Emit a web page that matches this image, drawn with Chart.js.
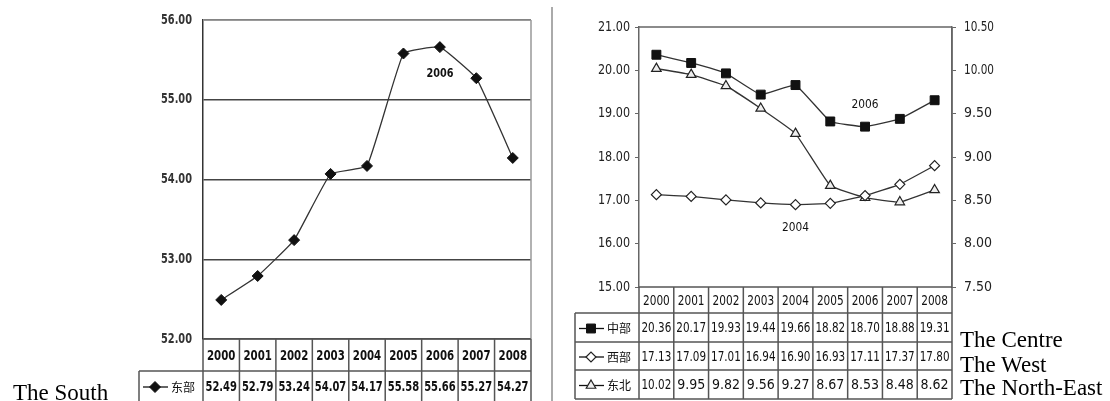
<!DOCTYPE html>
<html><head><meta charset="utf-8">
<script src="https://cdn.jsdelivr.net/npm/chart.js@4/dist/chart.umd.min.js"></script>
<style>
html,body{margin:0;padding:0;background:#fff;width:1110px;height:401px;overflow:hidden;}
#wrap{position:relative;width:1110px;height:401px;}
canvas{position:absolute;top:0;}
#c1{left:0;} #c2{left:552px;}
.lab{position:absolute;font-family:'Liberation Serif','Times New Roman',serif;font-size:23px;line-height:23px;color:#000;white-space:nowrap;}
#sep{position:absolute;left:551px;top:7px;width:2px;height:394px;background:#aaa;}
</style></head><body>
<div id="wrap">
<canvas id="c1" width="552" height="401"></canvas>
<canvas id="c2" width="558" height="401"></canvas>
<div id="sep"></div>
<div class="lab" style="left:13px;top:381px;">The South</div>
<div class="lab" style="left:960px;top:328px;">The Centre</div>
<div class="lab" style="left:960px;top:353px;">The West</div>
<div class="lab" style="left:960px;top:376px;">The North-East</div>
</div>
<script>
// ---- data ----
const years = ['2000','2001','2002','2003','2004','2005','2006','2007','2008'];
const south = [52.49, 52.79, 53.24, 54.07, 54.17, 55.58, 55.66, 55.27, 54.27];
const centre = [20.36, 20.17, 19.93, 19.44, 19.66, 18.82, 18.70, 18.88, 19.31];
const west = [17.13, 17.09, 17.01, 16.94, 16.90, 16.93, 17.11, 17.37, 17.80];
const northEast = [10.02, 9.95, 9.82, 9.56, 9.27, 8.67, 8.53, 8.48, 8.62];
const southName = '东部', centreName = '中部', westName = '西部', neName = '东北';
const leftNotes = [{text:'2006', x:'2006', y:55.33}];
const rightNotes = [{text:'2006', x:'2006', y:19.22}, {text:'2004', x:'2004', y:16.36}];

const narrow = "'DejaVu Sans Condensed','Liberation Sans',sans-serif";
const cjk = "'Noto Sans CJK SC','Noto Sans CJK JP',sans-serif";
Chart.defaults.font.family = narrow;
Chart.defaults.color = '#222';

function drawMarker(ctx, ds, x, y){
  ctx.save();
  ctx.fillStyle = ds.pointBackgroundColor;
  ctx.strokeStyle = ds.pointBorderColor;
  ctx.lineWidth = ds.pointBorderWidth;
  Chart.helpers.drawPoint(ctx, {pointStyle: ds.pointStyle, radius: ds.pointRadius, rotation: 0, borderWidth: ds.pointBorderWidth}, x, y);
  ctx.restore();
}

const tablePlugin = {
  id: 'tbl',
  afterDraw(chart, args, o){
    const ctx = chart.ctx, a = chart.chartArea;
    const n = years.length, cw = (a.right - a.left) / n;
    ctx.save();
    // box borders
    ctx.strokeStyle = o.boxColor; ctx.lineWidth = 1.5;
    ctx.beginPath();
    ctx.moveTo(a.left, a.top); ctx.lineTo(a.right, a.top);
    ctx.moveTo(a.right, a.top); ctx.lineTo(a.right, a.bottom);
    ctx.stroke();
    // axis tick labels (condensed)
    o.axes.forEach(ax => {
      const sc = chart.scales[ax.id];
      ctx.fillStyle = ax.color; ctx.font = ax.font; ctx.textBaseline = 'middle';
      ctx.textAlign = ax.align;
      sc.ticks.forEach(t => {
        const y = sc.getPixelForValue(t.value);
        ctx.fillText(t.value.toFixed(2), ax.x, y, ax.maxW);
      });
    });
    // table lines
    ctx.strokeStyle = o.lineColor; ctx.lineWidth = 1.5;
    const hTop = a.bottom, hBot = o.headerBottom, rb = o.rowBottoms;
    const last = rb[rb.length-1];
    ctx.beginPath();
    ctx.moveTo(a.left, hTop); ctx.lineTo(a.right, hTop);
    ctx.moveTo(o.legendLeft, hBot); ctx.lineTo(a.right, hBot);
    rb.forEach(b => { ctx.moveTo(o.legendLeft, b); ctx.lineTo(a.right, b); });
    for (let k = 0; k <= n; k++) { const x = a.left + k*cw; ctx.moveTo(x, hTop); ctx.lineTo(x, last); }
    ctx.moveTo(o.legendLeft, hBot); ctx.lineTo(o.legendLeft, last);
    ctx.stroke();
    // header text
    ctx.fillStyle = '#111'; ctx.textAlign = 'center'; ctx.textBaseline = 'middle';
    ctx.font = o.font;
    years.forEach((y, i) => ctx.fillText(y, a.left + (i+0.5)*cw, (hTop+hBot)/2 + 1, cw - 8));
    // rows
    chart.data.datasets.forEach((ds, r) => {
      const top = r === 0 ? hBot : rb[r-1], bot = rb[r];
      const cy = (top + Math.min(bot, chart.height)) / 2 + 1;
      ctx.fillStyle = '#111'; ctx.font = o.font; ctx.textAlign = 'center';
      ds.data.forEach((v, i) => ctx.fillText(v.toFixed(2), a.left + (i+0.5)*cw, cy, cw - 5));
      // legend sample
      ctx.strokeStyle = '#111'; ctx.lineWidth = 1.3;
      ctx.beginPath(); ctx.moveTo(o.legendLeft + 4, cy); ctx.lineTo(o.legendLeft + 29, cy); ctx.stroke();
      drawMarker(ctx, ds, o.legendLeft + 16, cy);
      ctx.fillStyle = '#111'; ctx.font = o.cjkFont; ctx.textAlign = 'left';
      ctx.fillText(ds.label, o.legendLeft + 32, cy, 28);
    });
    // notes
    ctx.fillStyle = '#111'; ctx.textAlign = 'center'; ctx.font = o.noteFont;
    o.notes.forEach(nt => {
      const sx = chart.scales.x.getPixelForValue(years.indexOf(nt.x));
      const sy = chart.scales.y.getPixelForValue(nt.y);
      ctx.fillText(nt.text, sx, sy, 27);
    });
    ctx.restore();
  }
};

new Chart(document.getElementById('c1'), {
  type: 'line',
  data: { labels: years, datasets: [{
    label: southName, data: south,
    borderColor: '#333', borderWidth: 1.3, tension: 0.1,
    pointStyle: 'rectRot', pointRadius: 5.5, pointBackgroundColor: '#111', pointBorderColor: '#111', pointBorderWidth: 1
  }]},
  options: {
    responsive: false, animation: false, devicePixelRatio: 1,
    layout: { padding: { top: 20, bottom: 62, right: 21, left: 0 } },
    plugins: { legend: {display: false}, tooltip: {enabled: false},
      tbl: { boxColor: '#999', lineColor: '#555', headerBottom: 371, rowBottoms: [402], legendLeft: 139,
             font: 'bold 14px ' + narrow, cjkFont: '12px ' + cjk, noteFont: 'bold 13px ' + narrow, notes: leftNotes,
             axes: [{ id: 'y', x: 192, align: 'right', maxW: 31, font: 'bold 14px ' + narrow, color: '#333' }] } },
    scales: {
      x: { type: 'category', display: false, offset: true },
      y: { min: 52, max: 56,
        afterFit: s => { s.width = 203; },
        ticks: { stepSize: 1, display: false },
        grid: { color: '#444', lineWidth: 1.5, drawTicks: false },
        border: { display: true, color: '#333', width: 1.5 } }
    }
  },
  plugins: [tablePlugin]
});

new Chart(document.getElementById('c2'), {
  type: 'line',
  data: { labels: years, datasets: [
    { label: centreName, data: centre, yAxisID: 'y', borderColor: '#333', borderWidth: 1.3, tension: 0.1,
      pointStyle: 'rect', pointRadius: 6.3, pointBackgroundColor: '#111', pointBorderColor: '#111', pointBorderWidth: 1 },
    { label: westName, data: west, yAxisID: 'y', borderColor: '#333', borderWidth: 1.3, tension: 0.1,
      pointStyle: 'rectRot', pointRadius: 5, pointBackgroundColor: '#fff', pointBorderColor: '#222', pointBorderWidth: 1.2 },
    { label: neName, data: northEast, yAxisID: 'y1', borderColor: '#333', borderWidth: 1.3, tension: 0.1,
      pointStyle: 'triangle', pointRadius: 5.5, pointBackgroundColor: '#eee', pointBorderColor: '#222', pointBorderWidth: 1.2 }
  ]},
  options: {
    responsive: false, animation: false, devicePixelRatio: 1,
    layout: { padding: { top: 27, bottom: 114, right: 0, left: 0 } },
    plugins: { legend: {display: false}, tooltip: {enabled: false},
      tbl: { boxColor: '#666', lineColor: '#555', headerBottom: 313, rowBottoms: [342, 370, 399], legendLeft: 23,
             font: '14px ' + narrow, cjkFont: '12px ' + cjk, noteFont: '13px ' + narrow, notes: rightNotes,
             axes: [{ id: 'y', x: 78, align: 'right', maxW: 32, font: '14px ' + narrow, color: '#222' },
                    { id: 'y1', x: 412, align: 'left', maxW: 30, font: '14px ' + narrow, color: '#222' }] } },
    scales: {
      x: { type: 'category', display: false, offset: true },
      y: { position: 'left', min: 15, max: 21,
        afterFit: s => { s.width = 87; },
        ticks: { stepSize: 1, display: false },
        grid: { drawOnChartArea: false, drawTicks: true, tickLength: 4, color: '#666' },
        border: { display: true, color: '#666', width: 1.5 } },
      y1: { position: 'right', min: 7.5, max: 10.5,
        afterFit: s => { s.width = 158; },
        ticks: { stepSize: 0.5, display: false },
        grid: { drawOnChartArea: false, drawTicks: true, tickLength: 4, color: '#666' },
        border: { display: true, color: '#666', width: 1.5 } }
    }
  },
  plugins: [tablePlugin]
});
</script>
</body></html>
